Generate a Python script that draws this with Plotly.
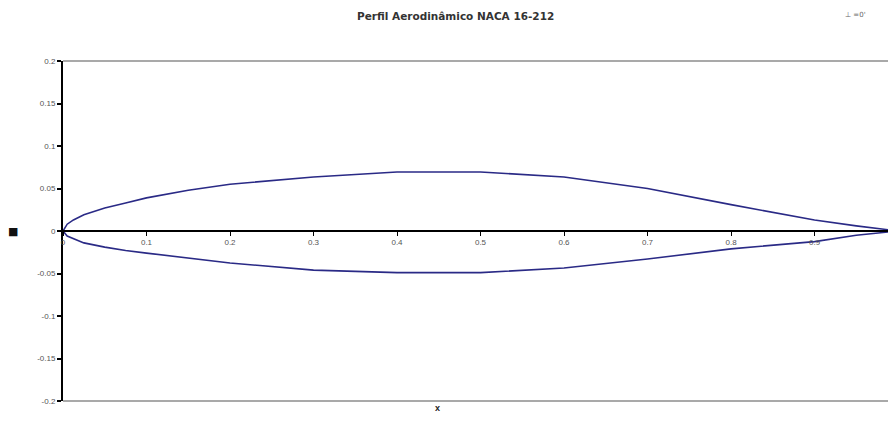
import plotly.graph_objects as go

# NACA 16-212 airfoil coordinates (chord-normalised)
x_upper = [1.0, 0.95, 0.9, 0.8, 0.7, 0.6, 0.5, 0.4, 0.3, 0.2, 0.15, 0.1, 0.075, 0.05, 0.025, 0.0125, 0.005, 0.0]
y_upper = [0.0, 0.006, 0.013, 0.031, 0.050, 0.0635, 0.0695, 0.0695, 0.0635, 0.055, 0.048, 0.039, 0.033, 0.027, 0.019, 0.013, 0.008, 0.0]
x_lower = [0.0, 0.005, 0.0125, 0.025, 0.05, 0.075, 0.1, 0.15, 0.2, 0.3, 0.4, 0.5, 0.6, 0.7, 0.8, 0.9, 0.95, 1.0]
y_lower = [0.0, -0.006, -0.009, -0.014, -0.019, -0.023, -0.026, -0.032, -0.0376, -0.046, -0.049, -0.049, -0.0435, -0.033, -0.021, -0.0125, -0.005, 0.0]

x_ticks = [0, 0.1, 0.2, 0.3, 0.4, 0.5, 0.6, 0.7, 0.8, 0.9]
x_tick_text = ["0", "0.1", "0.2", "0.3", "0.4", "0.5", "0.6", "0.7", "0.8", "0.9"]
y_ticks = [0.2, 0.15, 0.1, 0.05, 0, -0.05, -0.1, -0.15, -0.2]
y_tick_text = ["0.2", "0.15", "0.1", "0.05", "0", "-0.05", "-0.1", "-0.15", "-0.2"]

title_text = "Perfil Aerodinâmico NACA 16-212"
angle_text = "⊥ =0'"

fig = go.Figure()
fig.add_trace(go.Scatter(
    x=x_upper + x_lower[1:],
    y=y_upper + y_lower[1:],
    mode="lines",
    line=dict(color="#2a2a86", width=1.6),
    hoverinfo="skip",
    showlegend=False,
))

tick_font = dict(family="Liberation Sans, Arial, sans-serif", size=8, color="#555555")

fig.update_layout(
    width=888, height=427,
    margin=dict(l=63, r=0, t=61, b=26),
    paper_bgcolor="white", plot_bgcolor="white",
    showlegend=False,
    xaxis=dict(
        range=[0, 0.988], anchor="free", position=0.5,
        showgrid=False, zeroline=False,
        showline=True, linecolor="black", linewidth=1.5,
        ticks="outside", ticklen=4, tickcolor="black", tickwidth=1,
        tickvals=x_ticks, ticktext=x_tick_text, tickfont=tick_font,
    ),
    yaxis=dict(
        range=[-0.2, 0.2],
        showgrid=False, zeroline=False,
        showline=True, linecolor="black", linewidth=2,
        ticks="outside", ticklen=4, tickcolor="black", tickwidth=1.5,
        tickvals=y_ticks, ticktext=y_tick_text, tickfont=tick_font,
    ),
    shapes=[
        dict(type="line", xref="paper", yref="paper", x0=0, x1=1, y0=1, y1=1,
             line=dict(color="#8c8c8c", width=1.5)),
        dict(type="line", xref="paper", yref="paper", x0=0, x1=1, y0=0, y1=0,
             line=dict(color="#8c8c8c", width=1.5)),
    ],
    annotations=[
        dict(text=f"<b>{title_text}</b>", xref="paper", yref="paper",
             x=(455 - 63) / 825, y=1, yshift=53, xanchor="center", showarrow=False,
             font=dict(family="DejaVu Sans, sans-serif", size=10.5, color="#333333")),
        dict(text=angle_text, xref="paper", yref="paper",
             x=(855 - 63) / 825, y=1, yshift=52, xanchor="center", showarrow=False,
             font=dict(family="DejaVu Sans, sans-serif", size=7, color="#666666")),
        dict(text="<b>x</b>", xref="paper", yref="paper",
             x=(437 - 63) / 825, y=0, yshift=-14, xanchor="center", showarrow=False,
             font=dict(family="Liberation Sans, Arial, sans-serif", size=9, color="#222222")),
        dict(text="■", xref="paper", yref="paper",
             x=(13 - 63) / 825, y=0.5, xanchor="center", showarrow=False,
             font=dict(family="DejaVu Sans, sans-serif", size=11, color="#111111")),
    ],
)

fig.write_html("out.html")
